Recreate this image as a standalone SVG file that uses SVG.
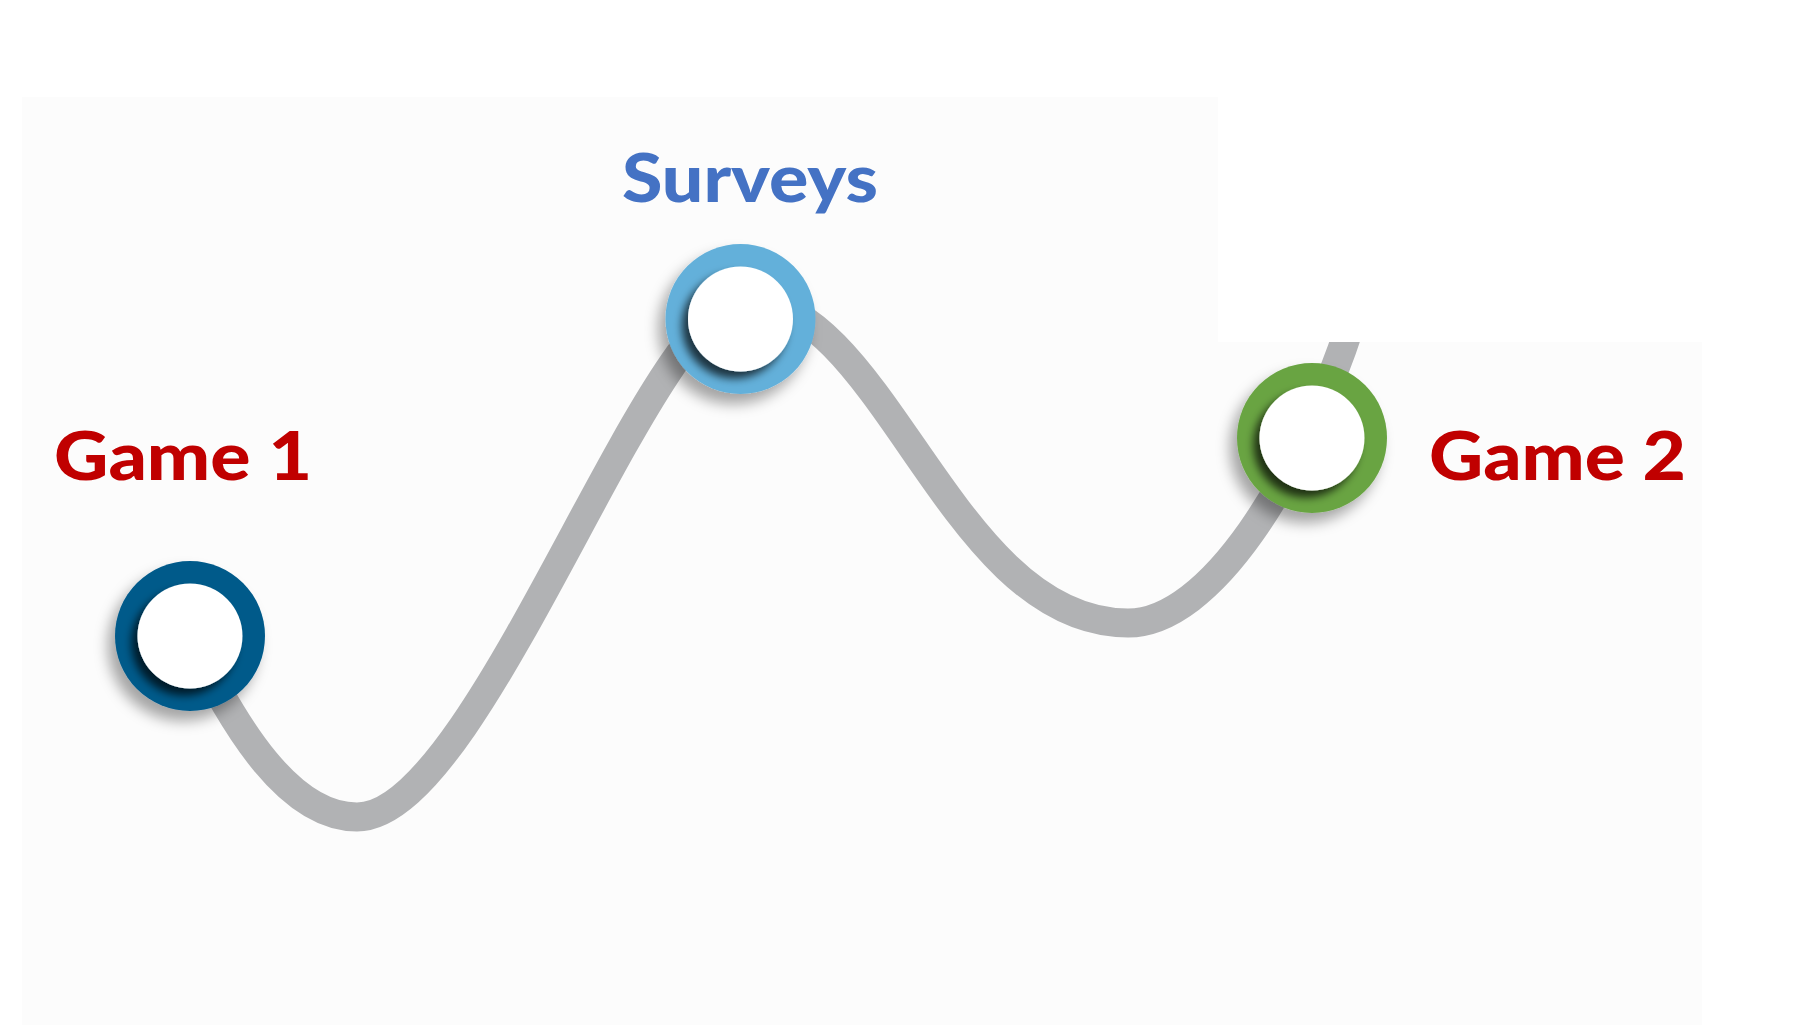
<svg xmlns="http://www.w3.org/2000/svg" width="1796" height="1031" viewBox="0 0 1796 1031">
  <defs>
    <filter id="ringShadow" x="-50%" y="-50%" width="200%" height="200%">
      <feDropShadow dx="-7" dy="10" stdDeviation="7" flood-color="#000" flood-opacity="0.35"/>
    </filter>
    <filter id="discShadow" x="-50%" y="-50%" width="200%" height="200%">
      <feDropShadow dx="-6" dy="7" stdDeviation="4" flood-color="#000" flood-opacity="0.7"/>
    </filter>
  </defs>
  <style>
    .curve { fill: none; stroke: #b1b2b4; stroke-width: 29; }
    .disc { fill: #ffffff; filter: url(#discShadow); }
    .ring { filter: url(#ringShadow); }
    .label { font-family: Lato, "Open Sans", "Liberation Sans", sans-serif; font-weight: 900; font-size: 66px; }
    .red { fill: #c00000; }
    .blue { fill: #4472c4; }
  </style>

  <rect x="0" y="0" width="1796" height="1031" fill="#ffffff"/>
  <rect x="22" y="97" width="1680" height="928" fill="#fcfcfc"/>

  <g id="connectors">
    <path class="curve" d="M190,636 C235,730 290,817 357,817 C480,817 650,300 745,300 C885,300 950,623 1128,623 C1210,623 1300,480 1352,320"/>
  </g>

  <rect x="1218" y="90" width="578" height="252" fill="#ffffff"/>

  <g id="node-game1">
    <circle class="ring" cx="190" cy="636" r="75" fill="#015a8a"/>
    <circle class="disc" cx="190" cy="636" r="52.5"/>
    <text class="label red" x="54" y="480" textLength="258" lengthAdjust="spacingAndGlyphs">Game 1</text>
  </g>

  <g id="node-surveys">
    <circle class="ring" cx="740.5" cy="319" r="75" fill="#63b0da"/>
    <circle class="disc" cx="740.5" cy="319" r="52.5"/>
    <text class="label blue" x="622" y="202" textLength="256" lengthAdjust="spacingAndGlyphs">Surveys</text>
  </g>

  <g id="node-game2">
    <circle class="ring" cx="1312" cy="438" r="75" fill="#69a443"/>
    <circle class="disc" cx="1312" cy="438" r="52.5"/>
    <text class="label red" x="1429" y="480" textLength="257" lengthAdjust="spacingAndGlyphs">Game 2</text>
  </g>
</svg>
